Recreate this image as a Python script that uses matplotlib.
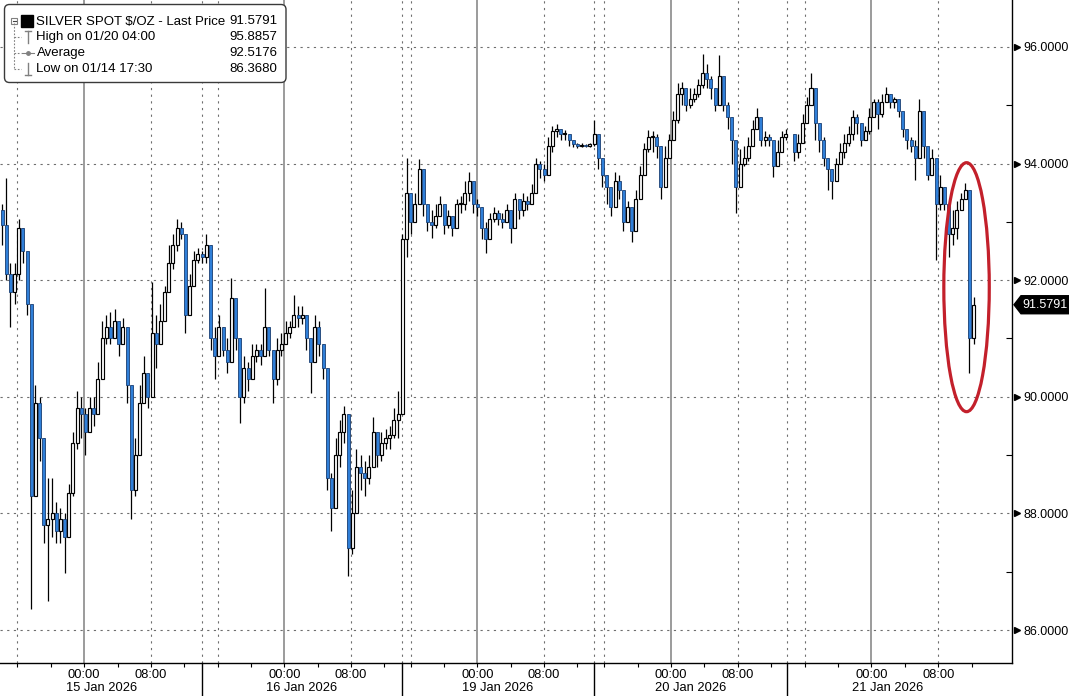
import numpy as np
import matplotlib
matplotlib.use("Agg")
import matplotlib.pyplot as plt
from matplotlib.patches import Ellipse, FancyBboxPatch, Polygon, Rectangle
from matplotlib.transforms import blended_transform_factory, IdentityTransform
from matplotlib.lines import Line2D

nan = np.nan
# ---------------- data (30-minute bars) ----------------
first_open = 93.2
close = [
    92.95, 92.1, 91.8, 92.1, 92.9, 92.5, 91.6, 88.3, 89.9, 89.3,
    87.8, 87.9, 88.0, 87.7, 87.9, 87.6, 88.35, 89.2, 89.8, 89.7,
    89.4, 89.8, 89.7, 90.3, 91.0, 91.2, 91.0, 91.3, 90.9, 91.2,
    90.2, 88.4, 89.0, 89.9, 90.4, 90.0, 91.1, 90.9, 91.3, 91.8,
    92.3, 92.6, 92.9, 92.8, 91.4, 91.9, 92.35, 92.45, 92.4, 92.6,
    91.0, 90.7, 91.2, 90.8, 90.6, 91.7, 91.0, 90.0, 90.5, 90.3,
    90.7, 90.8, 90.7, 91.2, 90.8, 90.3, 90.8, 90.9, 91.1, 91.2,
    91.4, 91.35, 91.4, 91.0, 90.6, 91.2, 90.9, 90.5, 88.6, 88.1,
    89.0, 89.4, 89.7, 87.4, 88.0, 88.8, 88.7, 88.6, 88.8, 89.4,
    89.0, 89.2, 89.3, 89.35, 89.6, 89.7, 92.7, 93.5, 93.0, 93.3,
    93.9, 93.3, 93.0, 92.95, 93.1, 93.3, 92.95, 93.1, 92.9, 93.3,
    93.3, 93.5, 93.7, 93.3, 93.25, 92.9, 92.7, 93.05, 93.15, 93.05,
    93.0, 93.2, 92.9, 93.4, 93.2, 93.35, 93.3, 93.5, 94.0, 93.9,
    93.8, 94.3, 94.55, 94.6, 94.5, 94.5, 94.4, 94.33, 94.3, 94.32,
    94.3, 94.33, 94.5, 94.1, 93.8, 93.6, 93.25, 93.7, 93.55, 93.0,
    93.25, 92.85, 93.4, 93.8, 94.25, 94.45, 94.45, 94.3, 93.6, 94.1,
    94.4, 94.75, 95.2, 95.3, 95.0, 95.1, 95.2, 95.35, 95.55, 95.45,
    95.3, 95.0, 95.5, 95.0, 94.8, 94.4, 93.6, 94.0, 94.1, 94.3,
    94.6, 94.8, 94.4, 94.45, 94.4, 93.95, 94.2, 94.45, 94.5, nan,
    94.2, 94.35, 94.7, 95.0, 95.3, 94.7, 94.4, 94.1, 93.9, 93.7,
    94.0, 94.2, 94.35, 94.5, 94.8, 94.7, 94.4, 94.55, 94.8, 95.05,
    94.85, 95.05, 95.2, 95.05, 95.1, 94.9, 94.6, 94.4, 94.3, 94.1,
    94.9, 94.3, 93.8, 94.1, 93.3, 93.6, 93.3, 92.8, 92.9, 93.2,
    93.4, 93.55, 91.0, 91.5791,
]
high = [
    93.3, 93.75, 92.3, 92.3, 93.05, 92.9, 92.3, 91.4, 90.2, 90.0,
    89.3, 88.6, 88.6, 88.2, 88.1, 88.0, 88.5, 89.4, 90.1, 90.0,
    89.8, 90.0, 90.0, 90.6, 91.3, 91.4, 91.45, 91.5, 91.3, 91.35,
    91.2, 89.9, 89.3, 90.2, 90.7, 90.4, 91.97, 91.4, 91.6, 91.9,
    92.6, 92.8, 93.05, 93.0, 92.8, 92.1, 92.5, 92.55, 92.5, 92.8,
    92.6, 91.2, 91.4, 91.2, 91.0, 92.04, 91.6, 91.0, 90.7, 90.6,
    90.9, 90.9, 90.9, 91.87, 91.2, 90.8, 91.0, 91.1, 91.3, 91.3,
    91.75, 91.55, 91.55, 91.4, 90.9, 91.4, 91.3, 90.9, 90.5, 88.7,
    89.3, 89.6, 89.85, 89.7, 88.4, 89.1, 89.0, 88.9, 89.0, 89.65,
    89.4, 89.4, 89.45, 89.5, 89.8, 90.1, 92.8, 94.1, 93.5, 93.5,
    94.08, 93.8, 93.3, 93.2, 93.3, 93.45, 93.2, 93.2, 93.1, 93.4,
    93.45, 93.7, 93.85, 93.6, 93.4, 93.25, 93.0, 93.15, 93.25, 93.2,
    93.15, 93.3, 93.2, 93.5, 93.4, 93.5, 93.45, 93.65, 94.1, 94.05,
    94.0, 94.45, 94.65, 94.67, 94.6, 94.58, 94.5, 94.4, 94.36, 94.35,
    94.34, 94.36, 94.75, 94.4, 94.1, 93.8, 93.5, 93.85, 93.8, 93.3,
    93.35, 93.1, 93.55, 93.95, 94.35, 94.58, 94.55, 94.5, 94.3, 94.3,
    94.5, 94.9, 95.38, 95.4, 95.3, 95.3, 95.3, 95.45, 95.8857, 95.7,
    95.5, 95.3, 95.86, 95.4, 95.05, 94.8, 94.3, 94.25, 94.3, 94.45,
    94.75, 94.95, 94.7, 94.55, 94.5, 94.3, 94.4, 94.55, 94.6, nan,
    94.5, 94.5, 94.85, 95.15, 95.55, 95.3, 94.7, 94.46, 94.1, 93.9,
    94.1, 94.35, 94.5, 94.65, 94.92, 94.85, 94.7, 94.65, 94.95, 95.1,
    95.1, 95.2, 95.31, 95.2, 95.15, 95.0, 94.85, 94.6, 94.45, 94.4,
    95.1, 94.8, 94.1, 94.25, 94.0, 93.8, 93.6, 93.2, 93.2, 93.35,
    93.5, 93.67, 93.55, 91.71,
]
low = [
    92.6, 92.0, 91.2, 91.6, 92.0, 92.3, 91.4, 86.368, 88.3, 88.9,
    87.5, 86.5, 87.6, 87.5, 87.5, 86.98, 87.6, 88.3, 89.1, 89.3,
    89.0, 89.4, 89.5, 89.7, 90.3, 90.9, 90.9, 91.0, 90.7, 90.9,
    89.9, 87.9, 88.3, 89.0, 90.0, 89.8, 90.0, 90.5, 90.9, 91.3,
    91.8, 92.2, 92.5, 92.7, 91.1, 91.6, 91.9, 92.3, 92.3, 92.3,
    90.8, 90.3, 90.8, 90.7, 90.4, 90.6, 90.8, 89.55, 89.9, 90.1,
    90.3, 90.6, 90.55, 90.7, 90.7, 89.9, 90.2, 90.7, 90.9, 91.0,
    91.2, 91.2, 91.25, 90.8, 90.07, 90.6, 90.7, 90.3, 88.4, 87.7,
    88.1, 88.8, 89.2, 86.93, 87.3, 88.0, 88.4, 88.3, 88.5, 88.8,
    88.8, 88.9, 89.1, 89.1, 89.3, 89.3, 89.7, 92.4, 92.8, 93.0,
    93.3, 93.1, 92.85, 92.73, 92.9, 93.1, 92.8, 92.9, 92.75, 92.9,
    93.15, 93.2, 93.35, 93.15, 93.1, 92.7, 92.47, 92.7, 93.0, 92.95,
    92.9, 93.0, 92.64, 92.9, 93.05, 93.1, 93.2, 93.3, 93.5, 93.75,
    93.7, 93.8, 94.2, 94.45, 94.4, 94.4, 94.3, 94.28, 94.27, 94.28,
    94.28, 94.28, 94.3, 93.9, 93.6, 93.3, 93.1, 93.3, 93.4, 92.85,
    93.0, 92.66, 92.9, 93.4, 93.8, 94.2, 94.2, 94.1, 93.4, 93.9,
    94.1, 94.4, 94.7, 95.0, 94.9, 94.95, 95.05, 95.15, 95.3, 95.3,
    95.1, 94.9, 95.0, 94.9, 94.6, 94.0, 93.15, 93.8, 93.95, 94.05,
    94.3, 94.6, 94.3, 94.3, 94.3, 93.77, 94.0, 94.3, 94.4, nan,
    94.05, 94.1, 94.4, 94.9, 95.1, 94.4, 94.2, 93.95, 93.55, 93.4,
    93.8, 94.0, 94.1, 94.3, 94.4, 94.5, 94.3, 94.4, 94.5, 94.9,
    94.6, 94.8, 95.05, 94.95, 94.95, 94.8, 94.45, 94.25, 94.2, 93.72,
    94.2, 94.1, 93.72, 93.9, 92.35, 93.2, 93.2, 92.4, 92.6, 92.7,
    93.2, 93.4, 90.4, 90.9,
]

day_labels = ["15 Jan 2026", "16 Jan 2026", "19 Jan 2026", "20 Jan 2026", "21 Jan 2026"]
y_ticks = [86, 88, 90, 92, 94, 96]
last_price = 91.5791
legend_labels = ["SILVER SPOT $/OZ - Last Price", "High on 01/20 04:00", "Average", "Low on 01/14 17:30"]
legend_values = ["91.5791", "95.8857", "92.5176", "86.3680"]

# session layout on the bar axis (bar index of 00:00 and slot edges)
midnight_bar = [19.7, 67.7, 114.0, 160.4, 208.5]
slot_edges = [-0.3, 47.9, 95.85, 142.0, 188.3, 236.5]

# ---------------- figure ----------------
W, H = 1069, 696
fig = plt.figure(figsize=(W / 100, H / 100), dpi=100)
fig.patch.set_facecolor("white")
ax = fig.add_axes([0, 33 / H, 1012 / W, 663 / H])
ax.set_xlim(-0.48, 242.2)
ax.set_ylim(85.435, 96.805)

FONT = "Liberation Sans"
FS_Y = 9
FS_X = 9.3
FS_L = 9.5

# grid
for v in y_ticks:
    ax.axhline(v, color="#6e6e6e", lw=0.8, ls=(0, (2, 4)), zorder=1)
for m in midnight_bar:
    ax.axvline(m, color="#8a8a8a", lw=1.2, zorder=1)
    for d in (-16, 16):
        ax.axvline(m + d, color="#6e6e6e", lw=0.8, ls=(0, (2, 4)), zorder=1)
for e in slot_edges[1:-1]:
    ax.axvline(e, color="#6e6e6e", lw=0.8, ls=(0, (2, 4)), zorder=1)

# candles
c = np.array(close, dtype=float)
hi = np.array(high, dtype=float)
lo = np.array(low, dtype=float)
x = np.arange(len(c))
o = np.empty_like(c)
prev = first_open
for i in range(len(c)):
    o[i] = prev
    if not np.isnan(c[i]):
        prev = c[i]
valid = ~np.isnan(c)
ax.vlines(x[valid], lo[valid], hi[valid], color="black", lw=0.9, zorder=2)
up = valid & (c >= o)
dn = valid & (c < o)
BLUE = "#2f7fd8"
ax.bar(x[up], np.maximum(c[up] - o[up], 0.02), bottom=o[up], width=0.72,
       color="white", edgecolor="black", linewidth=0.85, zorder=3)
ax.bar(x[dn], np.maximum(o[dn] - c[dn], 0.02), bottom=c[dn], width=0.72,
       color=BLUE, edgecolor="#1a3f73", linewidth=0.6, zorder=3)

# red ellipse
ax.add_patch(Ellipse((231.3, 91.88), 10.9, 4.27, fill=False,
                     edgecolor="#c3202b", lw=2.3, zorder=5))

# spines
for s in ("top", "left"):
    ax.spines[s].set_visible(False)
ax.spines["right"].set_color("black")
ax.spines["bottom"].set_color("black")
ax.spines["right"].set_linewidth(1.0)
ax.spines["bottom"].set_linewidth(1.0)

# y axis on right
ax.yaxis.tick_right()
ax.set_yticks(y_ticks)
ax.set_yticklabels([f"{v:.4f}" for v in y_ticks], fontsize=FS_Y, family=FONT)
ax.set_yticks([v + 1 for v in y_ticks[:-1]], minor=True)
ax.tick_params(axis="y", which="major", length=0, pad=8, colors="black")
ax.tick_params(axis="y", which="minor", direction="in", length=4, width=0.8, right=True, left=False)
tr_y = blended_transform_factory(ax.transAxes, ax.transData)
ax.plot([1.0045] * len(y_ticks), y_ticks, marker=">", ms=4.5, color="black",
        ls="none", transform=tr_y, clip_on=False)

# x axis
major = []
labels = []
for m in midnight_bar:
    major += [m, m + 16]
    labels += ["00:00", "08:00"]
ax.set_xticks(major)
ax.set_xticklabels(labels, fontsize=FS_X, family=FONT)
minor = []
for k, m in enumerate(midnight_bar):
    for d in range(-24, 32, 8):
        p = m + d
        if slot_edges[k] < p < slot_edges[k + 1]:
            minor.append(p)
ax.set_xticks(minor, minor=True)
ax.tick_params(axis="x", which="both", direction="out", length=3, width=0.8, pad=1)

tr_x = blended_transform_factory(ax.transData, ax.transAxes)
for k, lab in enumerate(day_labels):
    ax.text((slot_edges[k] + slot_edges[k + 1]) / 2, -25 / 663, lab, transform=tr_x,
            ha="center", va="center", fontsize=FS_X, family=FONT)
for e in slot_edges[1:-1]:
    ax.plot([e, e], [0, -33 / 663], color="black", lw=1.0, transform=tr_x, clip_on=False)

# last price tag (display pixels)
fig.canvas.draw()
yc = ax.transData.transform((0, last_price))[1]
xr = ax.transAxes.transform((1, 0))[0]
tag = Polygon([(xr + 2, yc), (xr + 9, yc + 9), (W, yc + 9), (W, yc - 9), (xr + 9, yc - 9)],
              closed=True, facecolor="black", edgecolor="black", transform=IdentityTransform())
fig.add_artist(tag)
fig.text(xr + 10, yc, f"{last_price:.4f}", color="white", fontsize=FS_Y, family=FONT,
         va="center", ha="left", transform=IdentityTransform())

# legend (display pixel coords, y measured from top)
def P(px, py):
    return (px, H - py)

idt = IdentityTransform()
box = FancyBboxPatch(P(4.5, 82.5), 281.5, 78, boxstyle="round,pad=0,rounding_size=5",
                     facecolor="white", edgecolor="#3a3a3a", lw=1.0, transform=idt)
fig.add_artist(box)
rows = [21.5, 37.0, 53.0, 69.0]
gray = "#808080"
# tree
fig.add_artist(Line2D([14, 14], [H - 23, H - rows[3]], color=gray, lw=0.8, ls=(0, (1.5, 1.5)), transform=idt))
for r in rows[1:]:
    fig.add_artist(Line2D([14, 21], [H - r, H - r], color=gray, lw=0.8, ls=(0, (1.5, 1.5)), transform=idt))
fig.add_artist(Rectangle(P(11, 23.5), 6, 6, facecolor="white", edgecolor=gray, lw=0.8, transform=idt))
fig.add_artist(Line2D([12.5, 15.5], [H - 20.5, H - 20.5], color="#444444", lw=0.8, transform=idt))
fig.add_artist(Rectangle(P(21, 27), 12, 12, facecolor="black", edgecolor="black", transform=idt))
# high marker
fig.add_artist(Line2D([28, 28], [H - 31, H - 43], color=gray, lw=1.0, transform=idt))
fig.add_artist(Line2D([25, 31], [H - 31, H - 31], color=gray, lw=1.0, transform=idt))
# average marker
fig.add_artist(Line2D([22, 34], [H - 53, H - 53], color=gray, lw=0.8, transform=idt))
fig.add_artist(Line2D([28], [H - 53], marker="o", ms=2.5, color=gray, transform=idt))
# low marker
fig.add_artist(Line2D([28, 28], [H - 63, H - 75], color=gray, lw=1.0, transform=idt))
fig.add_artist(Line2D([25, 31], [H - 75, H - 75], color=gray, lw=1.0, transform=idt))
for r, lab, val in zip(rows, legend_labels, legend_values):
    fig.text(36.5, H - r, lab, fontsize=FS_L, family=FONT, va="center", ha="left",
             color="black", transform=idt)
    fig.text(277.5, H - r, val, fontsize=FS_L, family=FONT, va="center", ha="right",
             color="black", transform=idt)

fig.savefig("out.png", dpi=100, facecolor="white")
